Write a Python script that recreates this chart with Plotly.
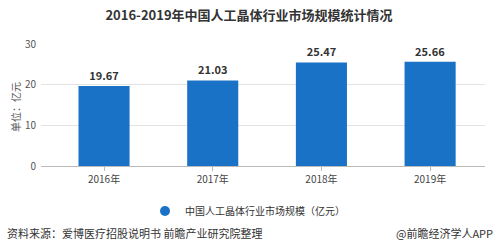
import plotly.graph_objects as go

categories = ["2016年", "2017年", "2018年", "2019年"]
values = [19.67, 21.03, 25.47, 25.66]
value_labels = ["19.67", "21.03", "25.47", "25.66"]
series_name = "中国人工晶体行业市场规模（亿元）"
y_ticks = [0, 10, 20, 30]

W, H = 498, 246
L, R, T, B = 41, 13, 44, 80
pw = W - L - R
ph = H - T - B

font = "Microsoft YaHei, Noto Sans CJK SC, sans-serif"
blue = "#1a72c6"

fig = go.Figure()
fig.add_trace(go.Bar(
    x=categories, y=values, width=0.47,
    marker=dict(color=blue, line=dict(width=0)),
    text=value_labels, textposition="outside",
    textfont=dict(size=11, color="#333333", family=font, weight="bold"),
    cliponaxis=False, showlegend=False,
))
fig.add_trace(go.Scatter(
    x=[categories[0]], y=[None], mode="markers", name=series_name,
    marker=dict(symbol="circle", size=10, color=blue),
    showlegend=True,
))

def px_x(x):
    return (x - L) / pw

def px_y(y):
    return (H - B - y) / ph

fig.update_layout(
    width=W, height=H,
    margin=dict(l=L, r=R, t=T, b=B),
    paper_bgcolor="white", plot_bgcolor="white",
    font=dict(family=font, size=10, color="#444444"),
    title=dict(text="<b>2016-2019年中国人工晶体行业市场规模统计情况</b>",
               x=0.5, xanchor="center", y=1 - 15 / H, yanchor="middle",
               font=dict(size=13, color="#333333", family=font)),
    xaxis=dict(range=[-0.58, 3.505], showgrid=False, showline=True,
               linecolor="#bbbbbb", linewidth=1, ticks="outside", ticklen=4,
               tickcolor="#bbbbbb", tickfont=dict(size=10, color="#444444"),
               fixedrange=True),
    yaxis=dict(range=[0, 30], tickvals=y_ticks, showgrid=True, gridcolor="#e3e3e3",
               zeroline=False, showline=False, tickfont=dict(size=10, color="#555555"),
               ticklabelstandoff=4),
    bargap=0.53,
    legend=dict(orientation="h", x=px_x(145), xanchor="left", y=px_y(211), yanchor="middle",
                font=dict(size=10, color="#333333", family=font), itemwidth=30,
                bgcolor="rgba(0,0,0,0)"),
    annotations=[
        dict(text="单位：亿元", textangle=-90, xref="paper", yref="paper",
             x=px_x(15), y=px_y(107), xanchor="center", yanchor="middle",
             showarrow=False, font=dict(size=10, color="#555555", family=font)),
        dict(text="资料来源：爱博医疗招股说明书 前瞻产业研究院整理", xref="paper", yref="paper",
             x=px_x(5), y=px_y(233), xanchor="left", yanchor="middle",
             showarrow=False, font=dict(size=11, color="#333333", family=font)),
        dict(text="@前瞻经济学人APP", xref="paper", yref="paper",
             x=px_x(495), y=px_y(233), xanchor="right", yanchor="middle",
             showarrow=False, font=dict(size=11, color="#333333", family=font)),
    ],
)

fig.write_html("out.html")
